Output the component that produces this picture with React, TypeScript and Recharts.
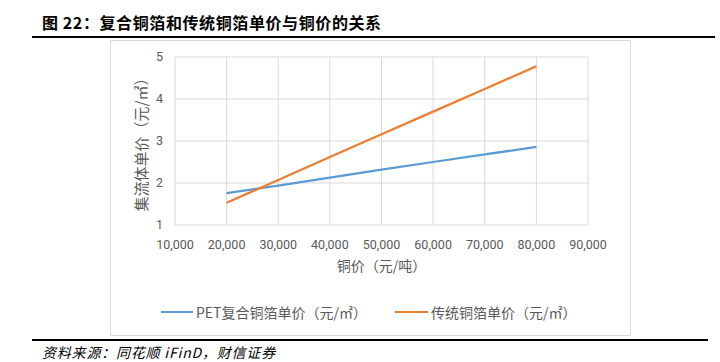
import { LineChart, Line, XAxis, YAxis, CartesianGrid } from 'recharts'

// copper price (yuan/ton)
const copperPrices = [20000, 30000, 40000, 50000, 60000, 70000, 80000]
// unit price per ㎡
const petCompositeFoil = [1.76, 1.94, 2.13, 2.32, 2.5, 2.68, 2.86]
const traditionalFoil = [1.53, 2.07, 2.62, 3.16, 3.7, 4.24, 4.78]

const xTicks = [10000, 20000, 30000, 40000, 50000, 60000, 70000, 80000, 90000]
const yTicks = [1, 2, 3, 4, 5]

const seriesNames = ['PET复合铜箔单价（元/㎡）', '传统铜箔单价（元/㎡）']
const seriesColors = ['#5b9bd5', '#ed7d31']

const data = copperPrices.map((price, i) => ({
  price,
  pet: petCompositeFoil[i],
  trad: traditionalFoil[i],
}))

const tickStyle = { fontSize: 12.5, fill: '#595959', fontFamily: 'Roboto, sans-serif' }
const cjk = '"Noto Sans CJK SC", sans-serif'

export default function App() {
  return (
    <div
      style={{
        position: 'absolute',
        left: 0,
        top: 0,
        width: 720,
        height: 362,
        background: '#fff',
        fontFamily: cjk,
      }}
    >
      <div
        style={{
          position: 'absolute',
          left: 42,
          top: 12,
          fontSize: 16,
          fontWeight: 700,
          letterSpacing: 0.6,
          color: '#000',
          lineHeight: '20px',
        }}
      >
        图 22：复合铜箔和传统铜箔单价与铜价的关系
      </div>
      <div style={{ position: 'absolute', left: 32, top: 36, width: 683, height: 2, background: '#000' }} />

      {/* chart frame */}
      <div
        style={{
          position: 'absolute',
          left: 110,
          top: 40,
          width: 519,
          height: 294,
          border: '1px solid #d9d9d9',
        }}
      />

      <div style={{ position: 'absolute', left: 0, top: 0 }}>
        <LineChart width={720} height={362} data={data} margin={{ top: 57, right: 132, bottom: 107, left: 135 }}>
          <CartesianGrid stroke="#d9d9d9" strokeWidth={1} />
          <XAxis
            dataKey="price"
            type="number"
            domain={[10000, 90000]}
            ticks={xTicks}
            tickFormatter={(v: number) => v.toLocaleString('en-US')}
            axisLine={false}
            tickLine={false}
            tick={tickStyle}
            tickMargin={9}
            height={30}
            interval={0}
            label={{
              value: '铜价（元/吨）',
              position: 'bottom',
              offset: 6,
              style: { fontSize: 14, fill: '#595959', fontFamily: cjk },
            }}
          />
          <YAxis
            type="number"
            domain={[1, 5]}
            ticks={yTicks}
            axisLine={false}
            tickLine={false}
            tick={tickStyle}
            tickMargin={6}
            width={40}
            label={{
              value: '集流体单价（元/㎡）',
              angle: -90,
              position: 'insideLeft',
              offset: 7,
              style: { fontSize: 15, fill: '#595959', fontFamily: cjk, textAnchor: 'middle' },
            }}
          />
          <Line
            type="linear"
            dataKey="pet"
            name={seriesNames[0]}
            stroke={seriesColors[0]}
            strokeWidth={2.25}
            dot={false}
            isAnimationActive={false}
          />
          <Line
            type="linear"
            dataKey="trad"
            name={seriesNames[1]}
            stroke={seriesColors[1]}
            strokeWidth={2.25}
            dot={false}
            isAnimationActive={false}
          />
        </LineChart>
      </div>

      {/* legend */}
      <div style={{ position: 'absolute', left: 161, top: 302, display: 'flex', alignItems: 'center', fontSize: 14, color: '#595959' }}>
        <span style={{ display: 'inline-block', width: 32, height: 2.5, background: seriesColors[0], marginRight: 3 }} />
        <span>{seriesNames[0]}</span>
      </div>
      <div style={{ position: 'absolute', left: 395, top: 302, display: 'flex', alignItems: 'center', fontSize: 14, color: '#595959' }}>
        <span style={{ display: 'inline-block', width: 33, height: 2.5, background: seriesColors[1], marginRight: 3 }} />
        <span>{seriesNames[1]}</span>
      </div>

      <div style={{ position: 'absolute', left: 32, top: 339, width: 676, height: 2, background: '#000' }} />
      <div
        style={{
          position: 'absolute',
          left: 42,
          top: 343,
          fontSize: 14,
          fontStyle: 'italic',
          letterSpacing: 0.8,
          color: '#000',
          lineHeight: '18px',
        }}
      >
        资料来源：同花顺 iFinD，财信证券
      </div>
    </div>
  )
}
